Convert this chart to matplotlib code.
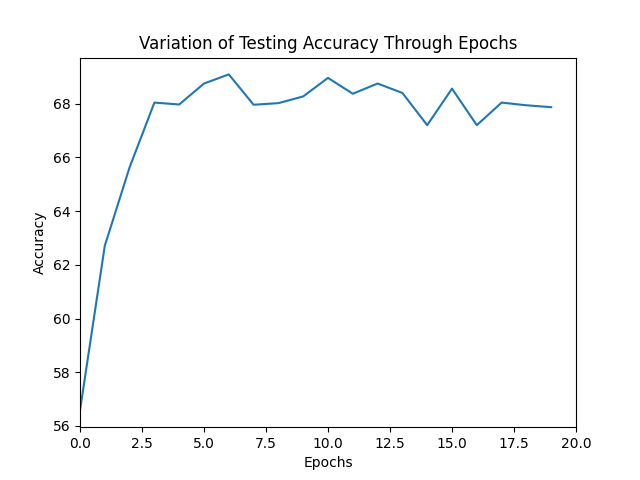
import matplotlib
matplotlib.use('Agg')
import matplotlib.pyplot as plt

epochs = list(range(20))
accuracy = [56.58, 62.71, 65.63, 68.04, 67.97, 68.75, 69.09, 67.96, 68.02, 68.27,
            68.96, 68.37, 68.75, 68.40, 67.20, 68.56, 67.20, 68.04, 67.94, 67.87]

fig, ax = plt.subplots(figsize=(6.4, 4.8), dpi=100)
ax.plot(epochs, accuracy)
ax.set_xlim(0, 20)
ax.set_title('Variation of Testing Accuracy Through Epochs')
ax.set_xlabel('Epochs')
ax.set_ylabel('Accuracy')
fig.savefig('out.png', dpi=100)
